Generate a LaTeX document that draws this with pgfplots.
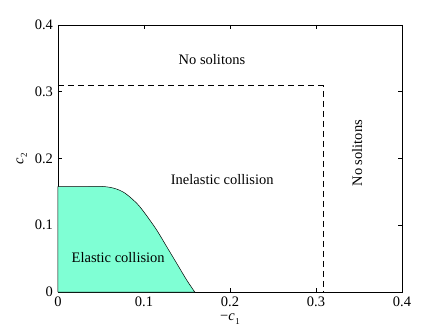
\documentclass[border=0pt]{standalone}
\usepackage{fontspec}
\setmainfont{Liberation Serif}
\usepackage{pgfplots}
\pgfplotsset{compat=1.18}
\definecolor{elastic}{RGB}{127,255,212}
\newcommand{\cc}[1]{\textit{c}\kern0.5bp\raisebox{-0.55ex}{\small #1}}
\begin{document}
\fontsize{14.5bp}{17bp}\selectfont
\begin{tikzpicture}
\path[use as bounding box] (-58bp,-41bp) rectangle (385bp,292bp);
\begin{axis}[
    at={(0,0)}, anchor=origin,
    scale only axis, width=344bp, height=267bp,
    xmin=0, xmax=0.4, ymin=0, ymax=0.4,
    xtick={0,0.1,0.2,0.3,0.4}, ytick={0,0.1,0.2,0.3,0.4},
    /pgf/number format/assume math mode=true,
    /pgf/number format/fixed,
    tick align=inside, tick pos=both, major tick length=4bp,
    axis line style={line width=0.8pt}, every tick/.style={black, line width=0.7pt},
    xlabel={\textminus\cc{1}}, ylabel={\cc{2}},
    xlabel style={yshift=3bp}, ylabel style={yshift=-2bp},
    clip=false,
]
\addplot[draw=black, fill=elastic, line width=0.5pt, smooth, tension=0.5] coordinates {
    (0,0.158) (0.03,0.158) (0.0527,0.158) (0.0663,0.155) (0.078,0.148)
    (0.0915,0.133) (0.101,0.118) (0.1147,0.0929) (0.1264,0.0679)
    (0.138,0.043) (0.1496,0.018) (0.159,0)
} \closedcycle;
\addplot[black, line width=0.7pt, dash pattern=on 6bp off 4bp] coordinates {
    (0,0.309) (0.308,0.309) (0.308,0)
};
\node at (axis cs:0.179,0.348) {No solitons};
\node at (axis cs:0.191,0.169) {Inelastic collision};
\node at (axis cs:0.07,0.051) {Elastic collision};
\node[rotate=90] at (axis cs:0.348,0.208) {No solitons};
\end{axis}
\end{tikzpicture}
\end{document}
